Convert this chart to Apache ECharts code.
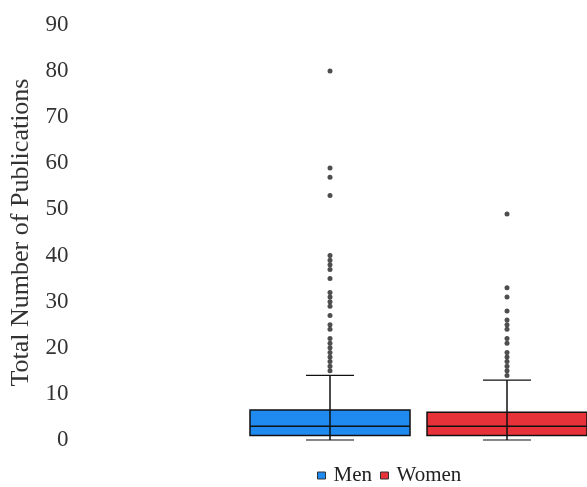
<!DOCTYPE html>
<html>
<head>
<meta charset="utf-8">
<script src="https://cdn.jsdelivr.net/npm/echarts@6/dist/echarts.min.js"></script>
<style>html,body{margin:0;padding:0;background:#fff;}#c{width:587px;height:487px;}</style>
</head>
<body>
<div id="c"></div>
<script>
const categories = ['Men', 'Women'];
// [min, Q1, median, Q3, max]
const menBox = [0, 1, 3, 6.5, 14];
const womenBox = [0, 1, 3, 6, 13];
const menOutliers = [15, 16, 17, 18, 19, 20, 21, 22, 24, 25, 27, 29, 30, 31, 32, 35, 37, 38, 39, 40, 53, 57, 59, 80];
const womenOutliers = [14, 15, 16, 17, 18, 19, 21, 22, 24, 25, 26, 28, 31, 33, 49];
const yMin = 0, yMax = 90, yInterval = 10;
const colors = { Men: '#1f8af0', Women: '#e8323a' };
const serif = 'Liberation Serif, Times New Roman, serif';

function renderBox(params, api) {
  const x = api.value(0);
  const vals = [api.value(1), api.value(2), api.value(3), api.value(4), api.value(5)];
  const band = api.size([1, 0])[0];
  const bw = band * 160 / 177;
  const cap = 48;
  const p = vals.map(v => api.coord([x, v]));
  const cx = p[0][0];
  const stroke = '#111';
  return {
    type: 'group',
    children: [
      { type: 'rect', shape: { x: cx - bw / 2, y: p[3][1], width: bw, height: p[1][1] - p[3][1] },
        style: { fill: api.visual('color'), stroke: stroke, lineWidth: 1.5 } },
      { type: 'line', shape: { x1: cx, y1: p[0][1], x2: cx, y2: p[4][1] }, style: { stroke: stroke, lineWidth: 1.5 } },
      { type: 'line', shape: { x1: cx - bw / 2, y1: p[2][1], x2: cx + bw / 2, y2: p[2][1] }, style: { stroke: stroke, lineWidth: 1.5 } },
      { type: 'line', shape: { x1: cx - cap / 2, y1: p[0][1], x2: cx + cap / 2, y2: p[0][1] }, style: { stroke: stroke, lineWidth: 1.2 } },
      { type: 'line', shape: { x1: cx - cap / 2, y1: p[4][1], x2: cx + cap / 2, y2: p[4][1] }, style: { stroke: stroke, lineWidth: 1.2 } }
    ]
  };
}

const outlierData = [];
menOutliers.forEach(v => outlierData.push([0, v]));
womenOutliers.forEach(v => outlierData.push([1, v]));

const chart = echarts.init(document.getElementById('c'));
chart.setOption({
  backgroundColor: '#fff',
  animation: false,
  grid: { left: 241.5, width: 354, top: 25, bottom: 47, outerBoundsMode: 'none', containLabel: false },
  legend: {
    data: categories,
    top: 460,
    left: 312,
    icon: 'rect',
    itemWidth: 8,
    itemHeight: 7,
    itemGap: 8,
    itemStyle: { borderColor: '#333', borderWidth: 1 },
    textStyle: { fontFamily: serif, fontSize: 21, color: '#222', padding: [0, 0, 0, 3] }
  },
  xAxis: {
    type: 'category',
    data: categories,
    axisLine: { show: false },
    axisTick: { show: false },
    axisLabel: { show: false },
    splitLine: { show: false }
  },
  yAxis: {
    type: 'value',
    min: yMin, max: yMax, interval: yInterval,
    name: 'Total Number of Publications',
    nameLocation: 'middle',
    nameGap: 203,
    nameTextStyle: { fontFamily: serif, fontSize: 26, color: '#333' },
    axisLine: { show: false },
    axisTick: { show: false },
    splitLine: { show: false },
    axisLabel: { margin: 173, fontFamily: serif, fontSize: 23, color: '#333' }
  },
  series: [
    { name: 'Men', type: 'custom', itemStyle: { color: colors.Men }, renderItem: renderBox,
      encode: { x: 0, y: [1, 2, 3, 4, 5] }, data: [[0].concat(menBox)], z: 2 },
    { name: 'Women', type: 'custom', itemStyle: { color: colors.Women }, renderItem: renderBox,
      encode: { x: 0, y: [1, 2, 3, 4, 5] }, data: [[1].concat(womenBox)], z: 2 },
    { name: 'Outliers', type: 'scatter', symbol: 'circle', symbolSize: 5,
      itemStyle: { color: '#222' }, data: outlierData, z: 3 }
  ]
});
</script>
</body>
</html>
